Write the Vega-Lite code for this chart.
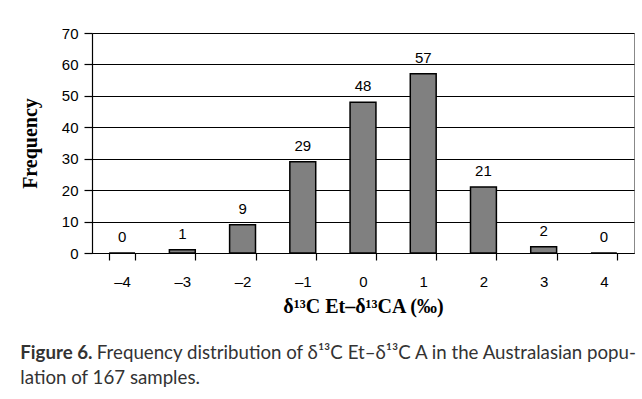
{
  "$schema": "https://vega.github.io/schema/vega-lite/v6.json",
  "width": 542,
  "height": 220,
  "autosize": {"type": "none"},
  "padding": {"left": 92, "top": 33, "right": 8, "bottom": 146},
  "background": "white",
  "data": {
    "values": [
      {"bin": "–4", "frequency": 0},
      {"bin": "–3", "frequency": 1},
      {"bin": "–2", "frequency": 9},
      {"bin": "–1", "frequency": 29},
      {"bin": "0", "frequency": 48},
      {"bin": "1", "frequency": 57},
      {"bin": "2", "frequency": 21},
      {"bin": "3", "frequency": 2},
      {"bin": "4", "frequency": 0}
    ]
  },
  "title": {
    "text": "Figure 6.",
    "subtitle": [
      "\u200b\u00a0\u00a0\u00a0\u00a0\u00a0\u00a0\u00a0\u00a0\u00a0\u00a0\u00a0\u00a0\u00a0\u00a0\u00a0\u00a0Frequency distribution of δ¹³C Et–δ¹³C A in the Australasian popu-",
      "lation of 167 samples."
    ],
    "orient": "bottom",
    "anchor": "start",
    "frame": "bounds",
    "offset": 28,
    "dx": 0,
    "font": "Lato",
    "fontSize": 18.7,
    "fontWeight": "bold",
    "color": "#333333",
    "subtitleFont": "Lato",
    "subtitleFontSize": 18.7,
    "subtitleFontWeight": "normal",
    "subtitleColor": "#333333",
    "subtitleLineHeight": 25,
    "subtitlePadding": -18.7
  },
  "config": {
    "view": {"stroke": "#888888", "strokeWidth": 1},
    "axis": {
      "labelFont": "Liberation Sans",
      "labelFontSize": 15,
      "labelColor": "black",
      "domainColor": "black",
      "tickColor": "black",
      "gridColor": "black",
      "gridWidth": 1.2,
      "domainWidth": 1.2,
      "tickWidth": 1.2,
      "titleFont": "Liberation Serif",
      "titleFontSize": 20,
      "titleFontWeight": "bold",
      "titleColor": "black"
    }
  },
  "encoding": {
    "x": {
      "field": "bin",
      "type": "ordinal",
      "sort": null,
      "scale": {"paddingInner": 0.57, "paddingOuter": 0.285},
      "axis": {
        "title": "δ¹³C Et–δ¹³CA (‰)",
        "labelAngle": 0,
        "tickBand": "extent",
        "tickSize": 7,
        "labelPadding": 14,
        "titlePadding": 7
      }
    },
    "y": {
      "field": "frequency",
      "type": "quantitative",
      "scale": {"domain": [0, 70], "nice": false},
      "axis": {
        "title": "Frequency",
        "values": [0, 10, 20, 30, 40, 50, 60, 70],
        "tickSize": 8,
        "labelPadding": 6,
        "titlePadding": 21,
        "grid": true
      }
    }
  },
  "layer": [
    {
      "mark": {"type": "bar", "color": "#808080", "stroke": "black", "strokeWidth": 1.5}
    },
    {
      "mark": {"type": "text", "baseline": "bottom", "dy": -8, "font": "Liberation Sans", "fontSize": 15, "color": "black"},
      "encoding": {"text": {"field": "frequency", "type": "quantitative"}}
    }
  ]
}
